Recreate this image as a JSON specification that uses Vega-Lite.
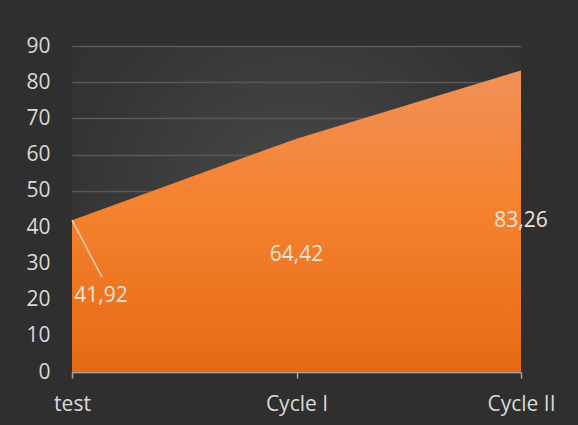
{
  "$schema": "https://vega.github.io/schema/vega-lite/v6.json",
  "width": 449,
  "height": 326,
  "autosize": "none",
  "padding": {"left": 72, "top": 46, "right": 57, "bottom": 53},
  "background": "#2f2f2f",
  "view": {
    "stroke": null,
    "fill": {
      "gradient": "radial",
      "x1": 0.5, "y1": 0.5, "r1": 0,
      "x2": 0.5, "y2": 0.5, "r2": 0.75,
      "stops": [
        {"offset": 0, "color": "#494949"},
        {"offset": 0.67, "color": "#343434"},
        {"offset": 1, "color": "#2f2f2f"}
      ]
    }
  },
  "config": {
    "font": "Open Sans",
    "axis": {"labelFont": "Open Sans", "labelColor": "#d9d9d9", "labelFontSize": 21},
    "axisY": {
      "title": null,
      "labelOverlap": false,
      "domain": false,
      "ticks": false,
      "labelPadding": 22,
      "gridColor": "#595959",
      "gridWidth": 1.5
    }
  },
  "data": {
    "values": [
      {"stage": "test", "value": 41.92, "label": "41,92"},
      {"stage": "Cycle I", "value": 64.42, "label": "64,42"},
      {"stage": "Cycle II", "value": 83.26, "label": "83,26"}
    ]
  },
  "transform": [{"calculate": "datum.value / 2", "as": "labelY"}],
  "encoding": {
    "x": {
      "field": "stage",
      "type": "ordinal",
      "sort": null,
      "scale": {"type": "point", "padding": 0},
      "axis": {
        "title": null,
        "labelAngle": 0,
        "domainColor": "#a6a6a6",
        "domainWidth": 1.5,
        "tickColor": "#a6a6a6",
        "tickWidth": 1.5,
        "tickSize": 6,
        "labelPadding": 15,
        "grid": false
      }
    }
  },
  "layer": [
    {
      "mark": {
        "type": "area",
        "color": {
          "gradient": "linear",
          "x1": 0, "y1": 0, "x2": 0, "y2": 1,
          "stops": [
            {"offset": 0, "color": "#f19158"},
            {"offset": 0.45, "color": "#f5822f"},
            {"offset": 1, "color": "#e66a16"}
          ]
        }
      },
      "encoding": {
        "y": {
          "field": "value",
          "type": "quantitative",
          "scale": {"domain": [0, 90]},
          "axis": {"title": null, "values": [0, 10, 20, 30, 40, 50, 60, 70, 80, 90]}
        }
      }
    },
    {
      "transform": [{"filter": "datum.stage === 'test'"}],
      "mark": {"type": "rule", "color": "#f6cfae", "strokeWidth": 1.5, "x2Offset": 30, "y2Offset": -19},
      "encoding": {
        "x2": {"field": "stage"},
        "y": {"field": "value", "type": "quantitative", "axis": {"title": null, "values": [0, 10, 20, 30, 40, 50, 60, 70, 80, 90]}},
        "y2": {"field": "labelY"}
      }
    },
    {
      "transform": [{"filter": "datum.stage === 'test'"}],
      "mark": {"type": "text", "fontSize": 21, "font": "Open Sans", "color": "#f1e3d8", "baseline": "middle", "dx": 29},
      "encoding": {
        "y": {"field": "labelY", "type": "quantitative", "axis": {"title": null, "values": [0, 10, 20, 30, 40, 50, 60, 70, 80, 90]}},
        "text": {"field": "label"}
      }
    },
    {
      "transform": [{"filter": "datum.stage !== 'test'"}],
      "mark": {"type": "text", "fontSize": 21, "font": "Open Sans", "color": "#f1e3d8", "baseline": "middle"},
      "encoding": {
        "y": {"field": "labelY", "type": "quantitative", "axis": {"title": null, "values": [0, 10, 20, 30, 40, 50, 60, 70, 80, 90]}},
        "text": {"field": "label"}
      }
    }
  ]
}
